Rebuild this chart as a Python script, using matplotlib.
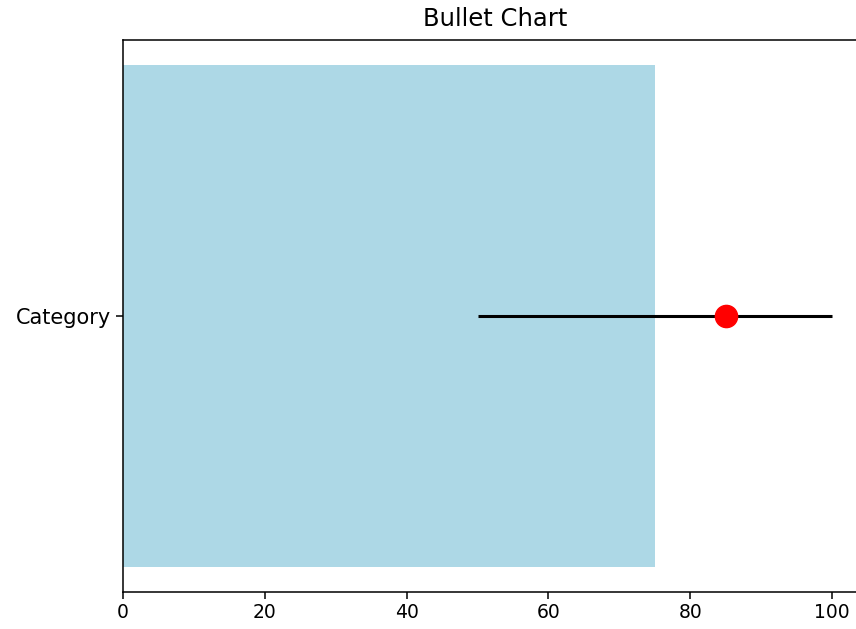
import matplotlib
matplotlib.use("Agg")
import matplotlib.pyplot as plt

# Data
categories = ["Category"]
values = [75]
range_low = [50]
range_high = [100]
targets = [85]

fig = plt.figure(figsize=(8.56, 6.29), dpi=100)
# right edge of the axes falls just outside the canvas, like the cropped reference
ax = fig.add_axes([0.1437, 0.0588, 0.8697, 0.8776])

# Main bar
ax.barh(categories, values, color="lightblue", height=0.8)

# Range line and target marker
ax.hlines(categories, range_low, range_high, color="black", linewidth=2.2)
ax.plot(targets, categories, "o", color="red", markersize=16)

ax.set_xlim(0, 105)
ax.set_ylim(-0.44, 0.44)
ax.set_xticks([0, 20, 40, 60, 80, 100])
ax.tick_params(axis="x", labelsize=13.5, length=4.7, width=1.1)
ax.tick_params(axis="y", labelsize=15, length=4.7, width=1.1)
for s in ax.spines.values():
    s.set_linewidth(1.1)

ax.set_title("Bullet Chart", fontsize=17.5, pad=10)

fig.savefig("out.png", dpi=100)
